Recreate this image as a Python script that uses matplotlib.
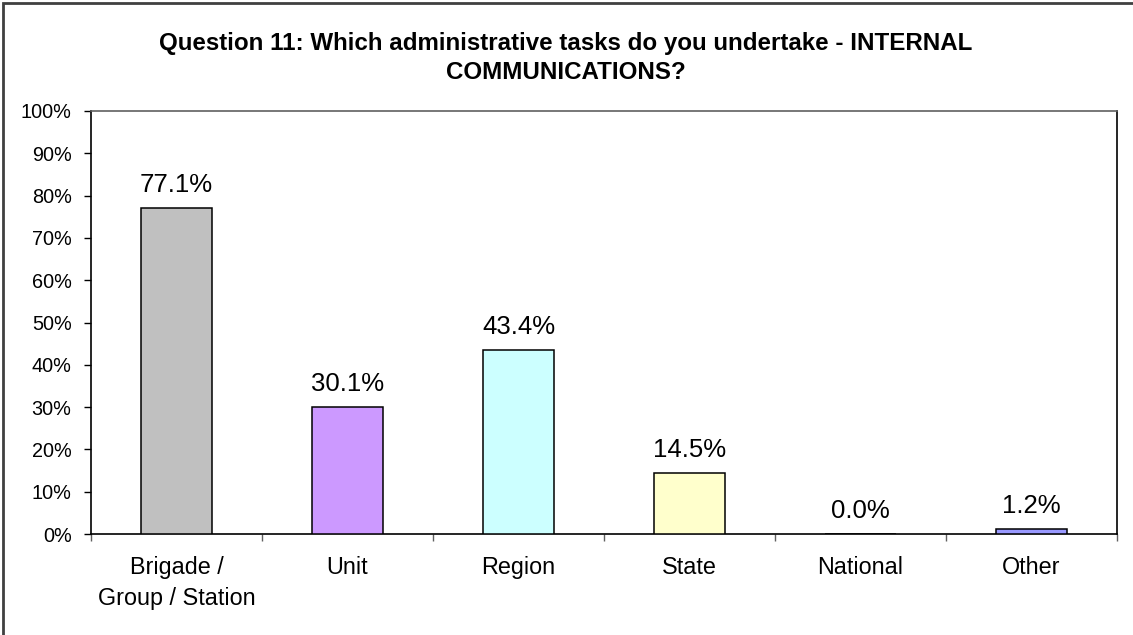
import matplotlib
matplotlib.use("Agg")
import matplotlib.pyplot as plt
from matplotlib.patches import Rectangle
from matplotlib.ticker import MultipleLocator, PercentFormatter, FixedLocator, NullFormatter

plt.rcParams['font.family'] = ['Liberation Sans', 'DejaVu Sans']

categories = ["Brigade /\nGroup / Station", "Unit", "Region", "State", "National", "Other"]
values = [77.1, 30.1, 43.4, 14.5, 0.0, 1.2]
colors = ["#C0C0C0", "#CC99FF", "#CCFFFF", "#FFFFCC", "#9999FF", "#9999FF"]
title = "Question 11: Which administrative tasks do you undertake - INTERNAL\nCOMMUNICATIONS?"

W, H = 1133, 635
fig = plt.figure(figsize=(W / 100, H / 100), dpi=100)
fig.patch.set_facecolor("white")

# outer chart frame (only top/left edges fall inside the canvas)
fig.add_artist(Rectangle((3 / W, -0.05), 1.2, (H - 3) / H + 0.05, transform=fig.transFigure,
                         fill=False, edgecolor="#404040", linewidth=2))

left, right, top, bottom = 91, 1117, 111, 534
ax = fig.add_axes([left / W, (H - bottom) / H, (right - left) / W, (bottom - top) / H])

x = list(range(len(categories)))
ax.bar(x, values, width=0.41, color=colors, edgecolor="black", linewidth=1.1, zorder=3)

for xi, v in zip(x, values):
    ax.annotate(f"{v:.1f}%", (xi, v), xytext=(0, 8), textcoords="offset points",
                ha="center", va="bottom", fontsize=18.5, color="black")

ax.set_xlim(-0.5, len(categories) - 0.5)
ax.set_ylim(0, 100)
ax.yaxis.set_major_locator(MultipleLocator(10))
ax.yaxis.set_major_formatter(PercentFormatter(decimals=0))
ax.tick_params(axis="y", direction="out", length=5, width=1, pad=9, labelsize=14.3)

# category ticks sit between bars; labels sit under bar centres
ax.xaxis.set_major_locator(FixedLocator([i - 0.5 for i in range(len(categories) + 1)]))
ax.xaxis.set_major_formatter(NullFormatter())
ax.xaxis.set_minor_locator(FixedLocator(x))
ax.set_xticklabels(categories, minor=True, fontsize=16.8, linespacing=1.42)
ax.tick_params(axis="x", which="major", direction="out", length=5, width=1, color="#606060")
ax.tick_params(axis="x", which="minor", length=0, pad=16)

for s in ax.spines.values():
    s.set_linewidth(1.2)
    s.set_color("black")
ax.spines["top"].set_color("#606060")

fig.text(566 / W, 1 - 58 / H, title, ha="center", va="center", fontsize=17.4,
         fontweight="bold", linespacing=1.3)

fig.savefig("out.png", dpi=100, facecolor="white")
